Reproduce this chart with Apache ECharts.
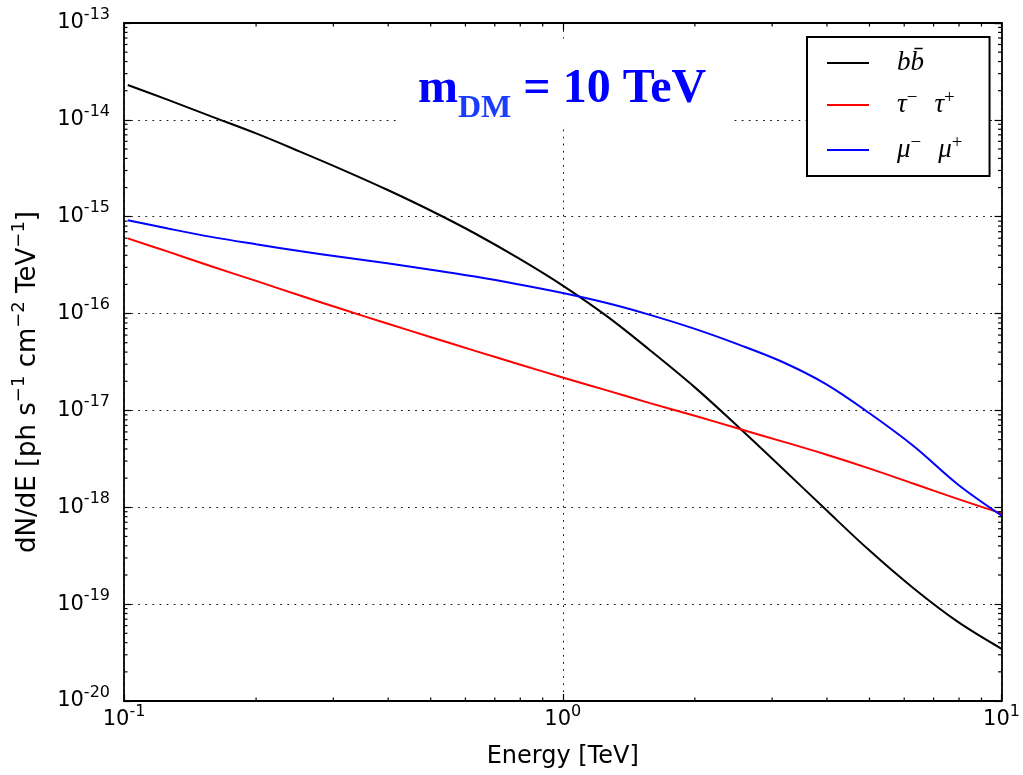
<!DOCTYPE html>
<html>
<head>
<meta charset="utf-8">
<script src="https://cdn.jsdelivr.net/npm/echarts@6/dist/echarts.min.js"></script>
<style>
  html, body { margin: 0; padding: 0; background: #fff; }
  #chart { width: 1023px; height: 775px; }
</style>
</head>
<body>
<div id="chart"></div>
<script>
// Photon energy grid [TeV]
const energies = [0.102, 0.126, 0.158, 0.2, 0.251, 0.316, 0.398, 0.501, 0.631, 0.794,
                  1.0, 1.26, 1.58, 2.0, 2.51, 3.16, 3.98, 5.01, 6.31, 7.94, 10.0];

// dN/dE [ph s^-1 cm^-2 TeV^-1] per annihilation channel, m_DM = 10 TeV
const bbFlux  = [2.29e-14, 1.61e-14, 1.086e-14, 7.24e-15, 4.73e-15, 3.03e-15, 1.897e-15, 1.152e-15,
                 6.71e-16, 3.71e-16, 1.945e-16, 9.4e-17, 4.19e-17, 1.73e-17, 6.79e-18, 2.55e-18,
                 9.42e-19, 3.55e-19, 1.45e-19, 6.59e-20, 3.46e-20];
const tauFlux = [5.97e-16, 4.36e-16, 3.08e-16, 2.175e-16, 1.545e-16, 1.10e-16, 7.89e-17, 5.70e-17,
                 4.12e-17, 3.00e-17, 2.19e-17, 1.61e-17, 1.19e-17, 8.81e-18, 6.51e-18, 4.79e-18,
                 3.51e-18, 2.51e-18, 1.75e-18, 1.22e-18, 8.65e-19];
const muFlux  = [9.2e-16, 7.55e-16, 6.19e-16, 5.19e-16, 4.42e-16, 3.82e-16, 3.30e-16, 2.84e-16,
                 2.41e-16, 2.00e-16, 1.63e-16, 1.285e-16, 9.70e-17, 6.95e-17, 4.81e-17, 3.18e-17,
                 1.87e-17, 9.30e-18, 4.27e-18, 1.73e-18, 8.22e-19];

const channelNames = ['bb', 'tautau', 'mumu'];
const channelColors = ['#000000', '#ff0000', '#0000ff'];
const channelLabels = {
  bb: '{g| }{i|b}{i|b\u0304}',
  tautau: '{g| }{i|\u03c4}{u|\u2212}{sp| }{i|\u03c4}{u|+}',
  mumu: '{g| }{i|\u03bc}{u|\u2212}{sp| }{i|\u03bc}{u|+}'
};

// Axis extents and minor tick positions (log scale)
const xRange = [0.1, 10];
const yRange = [1e-20, 1e-13];
const minorMultipliers = [2, 3, 4, 5, 6, 7, 8, 9];
const xDecades = [0.1, 1];
const yDecades = [1e-20, 1e-19, 1e-18, 1e-17, 1e-16, 1e-15, 1e-14];

const minorTicks = [];
xDecades.forEach(d => minorMultipliers.forEach(m => minorTicks.push([d * m, yRange[0], 0])));
yDecades.forEach(d => minorMultipliers.forEach(m => minorTicks.push([xRange[0], d * m, 1])));

const FONT = 'DejaVu Sans';
const supRich = {
  b: { fontSize: 21, fontFamily: FONT, color: '#000', lineHeight: 24 },
  s: { fontSize: 16, fontFamily: FONT, color: '#000', lineHeight: 16, padding: [0, 0, 17, 0] }
};
const powerLabel = v => '{b|10}{s|' + Math.round(Math.log10(v)) + '}';

const frameLine = { show: true, onZero: false, lineStyle: { color: '#000', width: 1.8 } };
const majorTick = { show: true, inside: true, length: 7, lineStyle: { color: '#000', width: 1.2 } };
const gridDots = { show: true, lineStyle: { color: '#000', width: 0.9, type: [1.8, 5.3] } };

function renderMinorTick(params, api) {
  const cs = params.coordSys;
  const p = api.coord([api.value(0), api.value(1)]);
  const L = 3.5;
  let segs;
  if (api.value(2) === 0) {
    const x = p[0];
    segs = [[x, cs.y + cs.height, x, cs.y + cs.height - L], [x, cs.y, x, cs.y + L]];
  } else {
    const y = p[1];
    segs = [[cs.x, y, cs.x + L, y], [cs.x + cs.width, y, cs.x + cs.width - L, y]];
  }
  return {
    type: 'group',
    children: segs.map(s => ({
      type: 'line',
      shape: { x1: s[0], y1: s[1], x2: s[2], y2: s[3] },
      style: { stroke: '#000', lineWidth: 1.2 }
    }))
  };
}

const fluxes = [bbFlux, tauFlux, muFlux];
const lineSeries = channelNames.map((name, k) => ({
  name: name,
  type: 'line',
  xAxisIndex: 0,
  yAxisIndex: 0,
  symbol: 'none',
  showSymbol: false,
  smooth: 0.35,
  color: channelColors[k],
  lineStyle: { color: channelColors[k], width: 2 },
  data: energies.map((e, i) => [e, fluxes[k][i]]),
  z: 3 + k
}));

const chart = echarts.init(document.getElementById('chart'), null, { renderer: 'canvas' });
chart.setOption({
  animation: false,
  backgroundColor: '#fff',
  grid: { left: 124, top: 23, width: 880, height: 682.5, containLabel: false },
  title: {
    text: '{m|m}{dm|DM}{r| = 10 TeV}',
    left: 398,
    top: 45,
    backgroundColor: '#fff',
    padding: [17, 26, 0, 20],
    textStyle: {
      rich: {
        m:  { fontFamily: 'Liberation Serif', fontWeight: 'bold', fontSize: 48, color: '#0000ff', lineHeight: 56 },
        dm: { fontFamily: 'Liberation Serif', fontWeight: 'bold', fontSize: 32, color: '#1a3cff', lineHeight: 32, padding: [37, 0, 0, 0] },
        r:  { fontFamily: 'Liberation Serif', fontWeight: 'bold', fontSize: 48, color: '#0000ff', lineHeight: 56 }
      }
    }
  },
  legend: {
    data: channelNames,
    orient: 'vertical',
    left: 807,
    top: 37,
    padding: [12.5, 27, 9.5, 20],
    itemGap: 12,
    itemWidth: 42,
    itemHeight: 2,
    icon: 'rect',
    backgroundColor: '#fff',
    borderColor: '#000',
    borderWidth: 2,
    borderRadius: 0,
    formatter: name => channelLabels[name],
    textStyle: {
      rich: {
        g:  { width: 23, fontSize: 27, lineHeight: 35 },
        sp: { width: 17, fontSize: 27, lineHeight: 35 },
        i:  { fontFamily: 'Liberation Serif', fontStyle: 'italic', fontSize: 27, color: '#000', lineHeight: 35 },
        u:  { fontFamily: 'Liberation Serif', fontSize: 19, color: '#000', lineHeight: 19, padding: [0, 0, 14, 0] }
      }
    }
  },
  xAxis: [
    {
      type: 'log', logBase: 10, min: xRange[0], max: xRange[1], splitNumber: 2,
      position: 'bottom',
      name: 'Energy [TeV]', nameLocation: 'middle', nameGap: 43,
      nameTextStyle: { fontFamily: FONT, fontSize: 24, color: '#000', lineHeight: 26 },
      axisLine: frameLine, axisTick: majorTick, splitLine: gridDots,
      axisLabel: { margin: 7, formatter: powerLabel, rich: supRich, showMinLabel: true, showMaxLabel: true }
    },
    {
      type: 'log', logBase: 10, min: xRange[0], max: xRange[1], splitNumber: 2,
      position: 'top',
      axisLine: frameLine, axisTick: majorTick, splitLine: { show: false },
      axisLabel: { show: false }
    }
  ],
  yAxis: [
    {
      type: 'log', logBase: 10, min: yRange[0], max: yRange[1], splitNumber: 7,
      position: 'left',
      name: 'dN/dE [ph s{s|\u22121} cm{s|\u22122} TeV{s|\u22121}]',
      nameLocation: 'middle', nameRotate: 90, nameGap: 68,
      nameTextStyle: {
        fontFamily: FONT, fontSize: 26, color: '#000', lineHeight: 28,
        padding: [0, 40, 0, 0],
        rich: { s: { fontFamily: FONT, fontSize: 18, color: '#000', lineHeight: 18, padding: [0, 0, 18, 0] } }
      },
      axisLine: frameLine, axisTick: majorTick, splitLine: gridDots,
      axisLabel: { margin: 14, formatter: powerLabel, rich: supRich, showMinLabel: true, showMaxLabel: true }
    },
    {
      type: 'log', logBase: 10, min: yRange[0], max: yRange[1], splitNumber: 7,
      position: 'right',
      axisLine: frameLine, axisTick: majorTick, splitLine: { show: false },
      axisLabel: { show: false }
    }
  ],
  series: lineSeries.concat([{
    name: 'minor-ticks',
    type: 'custom',
    xAxisIndex: 0,
    yAxisIndex: 0,
    silent: true,
    clip: false,
    z: 10,
    encode: { x: 0, y: 1 },
    renderItem: renderMinorTick,
    data: minorTicks
  }])
});
</script>
</body>
</html>
